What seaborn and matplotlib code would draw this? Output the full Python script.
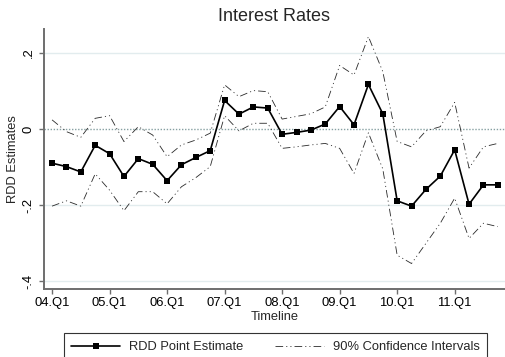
import matplotlib
matplotlib.use("Agg")
import matplotlib.pyplot as plt
import numpy as np
import pandas as pd
import seaborn as sns

# Quarterly RDD estimates for interest rates, 2004Q1-2011Q4
periods = [f"{yr:02d}.Q{q}" for yr in range(4, 12) for q in range(1, 5)]

estimate = [-0.090, -0.099, -0.113, -0.043, -0.065, -0.125, -0.078, -0.093,
            -0.136, -0.094, -0.075, -0.057, 0.075, 0.039, 0.058, 0.055,
            -0.014, -0.009, -0.003, 0.013, 0.059, 0.011, 0.117, 0.040,
            -0.189, -0.203, -0.159, -0.124, -0.055, -0.198, -0.147, -0.147]

ci_upper = [0.024, -0.007, -0.022, 0.028, 0.035, -0.033, 0.006, -0.016,
            -0.073, -0.042, -0.029, -0.011, 0.116, 0.085, 0.101, 0.098,
            0.026, 0.033, 0.040, 0.058, 0.167, 0.142, 0.243, 0.151,
            -0.033, -0.047, -0.005, 0.006, 0.070, -0.103, -0.047, -0.038]

ci_lower = [-0.203, -0.189, -0.203, -0.118, -0.161, -0.215, -0.165, -0.165,
            -0.197, -0.152, -0.128, -0.099, 0.035, -0.005, 0.015, 0.015,
            -0.051, -0.047, -0.042, -0.038, -0.051, -0.117, -0.010, -0.105,
            -0.332, -0.354, -0.301, -0.248, -0.182, -0.288, -0.248, -0.257]

tick_labels = ["04.Q1", "05.Q1", "06.Q1", "07.Q1", "08.Q1", "09.Q1", "10.Q1", "11.Q1"]
y_ticks = [0.2, 0.0, -0.2, -0.4]
y_tick_labels = [".2", "0", "-.2", "-.4"]

df = pd.DataFrame({
    "t": np.arange(len(periods)),
    "period": periods,
    "estimate": estimate,
    "upper": ci_upper,
    "lower": ci_lower,
})

sns.set_style("white")
plt.rcParams["font.family"] = ["Liberation Sans", "DejaVu Sans"]
plt.rcParams["lines.scale_dashes"] = False

fig = plt.figure(figsize=(5.05, 3.57), dpi=100)
ax = fig.add_axes([44 / 505, 1 - 289 / 357, (505 - 44) / 505, 260 / 357])

# light horizontal grid plus a dotted reference line at zero
for yv in [0.2, -0.2, -0.4]:
    ax.axhline(yv, color="#e2ecee", lw=1.0, zorder=0)
ax.axhline(0, color="#86a0a2", lw=1.0, ls=(0, (1, 1.2)), zorder=0.5)

ci_style = dict(color="#2a2a2a", lw=0.6, ls=(0, (5.5, 2.2, 0.8, 2.2, 0.8, 2.2)))
sns.lineplot(data=df, x="t", y="upper", ax=ax, label="_nolegend_", **ci_style)
sns.lineplot(data=df, x="t", y="lower", ax=ax, label="90% Confidence Intervals", **ci_style)
sns.lineplot(data=df, x="t", y="estimate", ax=ax, color="black", lw=1.2,
             marker="s", markersize=5, markeredgewidth=0,
             label="RDD Point Estimate")

ax.set_xlim(-0.56, 31.5)
ax.set_ylim(-0.421, 0.263)
ax.set_xticks(df["t"][::4])
ax.set_xticklabels(tick_labels)
ax.set_yticks(y_ticks)
ax.set_yticklabels(y_tick_labels, rotation=90, va="center")

for side in ["top", "right"]:
    ax.spines[side].set_visible(False)
for side in ["left", "bottom"]:
    ax.spines[side].set_color("#6e6e6e")
    ax.spines[side].set_linewidth(1.4)

ax.tick_params(axis="both", direction="out", length=3.5, width=1.0,
               color="#6e6e6e", labelsize=9.4, labelcolor="black")
ax.tick_params(axis="x", pad=2.5, bottom=True)
ax.tick_params(axis="y", pad=3.2, left=True)

ax.set_xlabel("Timeline", fontsize=9.3, labelpad=1.0)
ax.set_ylabel("RDD Estimates", fontsize=9.3, labelpad=3.0)
ax.set_title("Interest Rates", fontsize=13, pad=5.8)

handles, labels = ax.get_legend_handles_labels()
ax.get_legend().remove()
order = [labels.index("RDD Point Estimate"), labels.index("90% Confidence Intervals")]
leg = fig.legend([handles[i] for i in order], [labels[i] for i in order],
                 loc="upper center", bbox_to_anchor=(275.5 / 505, 1 - 333.3 / 357),
                 bbox_transform=fig.transFigure, ncol=2, fontsize=9.3,
                 handlelength=3.8, handletextpad=0.7, columnspacing=2.4,
                 borderpad=0.6, borderaxespad=0, fancybox=False, framealpha=1)
leg.get_frame().set_edgecolor("#333333")
leg.get_frame().set_linewidth(0.8)

fig.savefig("out.png", dpi=100)
